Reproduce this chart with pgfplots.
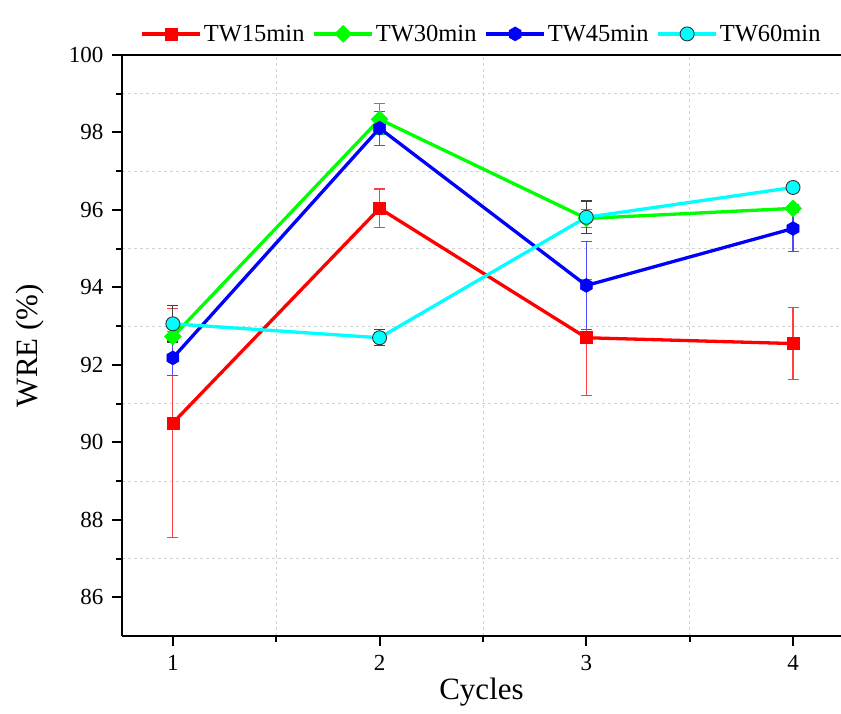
\documentclass[border=0pt]{standalone}
\usepackage{fontspec}
\setmainfont{Liberation Serif}
\usepackage{pgfplots}
\usepackage{pgfplotstable}
\pgfplotsset{compat=1.18}

\definecolor{cRed}{RGB}{255,0,0}
\definecolor{cGreen}{RGB}{0,255,0}
\definecolor{cBlue}{RGB}{0,0,255}
\definecolor{cCyan}{RGB}{0,255,255}

\pgfdeclareplotmark{hexagon*}{%
  \pgfpathmoveto{\pgfqpointpolar{90}{\pgfplotmarksize}}%
  \pgfpathlineto{\pgfqpointpolar{150}{\pgfplotmarksize}}%
  \pgfpathlineto{\pgfqpointpolar{210}{\pgfplotmarksize}}%
  \pgfpathlineto{\pgfqpointpolar{270}{\pgfplotmarksize}}%
  \pgfpathlineto{\pgfqpointpolar{330}{\pgfplotmarksize}}%
  \pgfpathlineto{\pgfqpointpolar{30}{\pgfplotmarksize}}%
  \pgfpathclose
  \pgfusepathqfillstroke}

\pgfplotstableread{
x y e
1 90.50 2.95
2 96.04 0.50
3 92.70 1.50
4 92.55 0.93
}\twfifteen
\pgfplotstableread{
x y e
1 92.73 0.13
2 98.34 0.40
3 95.78 0.23
4 96.04 0.10
}\twthirty
\pgfplotstableread{
x y e
1 92.18 0.46
2 98.11 0.44
3 94.05 1.14
4 95.52 0.60
}\twfortyfive
\pgfplotstableread{
x y e
1 93.06 0.47
2 92.70 0.21
3 95.81 0.42
4 96.58 0.08
}\twsixty

\begin{document}
\begin{tikzpicture}
\begin{axis}[
  scale only axis,
  width=719pt, height=581pt,
  xmin=0.754, xmax=4.232,
  ymin=85, ymax=100,
  axis x line*=box, axis y line*=left,
  axis line style={-, line width=2pt, black},
  xtick={1,2,3,4},
  ytick={86,88,...,100},
  minor x tick num=1,
  minor y tick num=1,
  xtick pos=left, ytick pos=left,
  tick align=outside,
  major tick length=10pt, minor tick length=6pt,
  every tick/.style={black, line width=2pt},
  xminorgrids=true, yminorgrids=true,
  minor grid style={gray!35, line width=0.7pt, dash pattern=on 3pt off 3pt},
  /pgf/number format/assume math mode=true,
  tick label style={font=\fontsize{23}{26}\selectfont},
  yticklabel style={xshift=-5pt},
  xticklabel style={yshift=-6pt},
  xlabel={Cycles}, ylabel={WRE (\%)},
  label style={font=\fontsize{31}{34}\selectfont},
  ylabel style={yshift=18pt},
  legend columns=4,
  legend style={at={(0.5,1)}, anchor=south, yshift=8pt, draw=none, fill=none,
    font=\fontsize{24.5}{28}\selectfont,
    /tikz/every even column/.append style={column sep=6pt}},
  legend image code/.code={\draw[mark repeat=2, mark phase=2] plot coordinates {(0pt,0pt) (29pt,0pt) (58pt,0pt)};},
  error bars/y dir=both, error bars/y explicit,
]
\addplot[cRed, line width=3.3pt, mark=square*, mark size=6pt, mark options={solid, line width=0.5pt, fill=cRed},
  error bars/.cd, error bar style={cRed!75, line width=1.1pt}, error mark options={cRed!75, line width=1.1pt, mark size=5.5pt, rotate=90}]
  table[x=x, y=y, y error=e]{\twfifteen};
\addlegendentry{TW15min}
\addplot[cGreen, line width=3.3pt, mark=square*, mark size=6pt, mark options={solid, rotate=45, line width=0.5pt, fill=cGreen},
  error bars/.cd, error bar style={cGreen!75!black!90, line width=1.1pt}, error mark options={cGreen!75!black!90, line width=1.1pt, mark size=5.5pt, rotate=90}]
  table[x=x, y=y, y error=e]{\twthirty};
\addlegendentry{TW30min}
\addplot[cBlue, line width=3.3pt, mark=hexagon*, mark size=7pt, mark options={solid, line width=0.5pt, fill=cBlue},
  error bars/.cd, error bar style={cBlue!70, line width=1.1pt}, error mark options={cBlue!70, line width=1.1pt, mark size=5.5pt, rotate=90}]
  table[x=x, y=y, y error=e]{\twfortyfive};
\addlegendentry{TW45min}
\addplot[cCyan, line width=3.3pt, mark=*, mark size=7pt, mark options={solid, draw=black!80, line width=0.9pt, fill=cCyan},
  error bars/.cd, error bar style={black!75, line width=1.1pt}, error mark options={black!75, line width=1.1pt, mark size=5.5pt, rotate=90}]
  table[x=x, y=y, y error=e]{\twsixty};
\addlegendentry{TW60min}
\end{axis}
\pgfresetboundingbox
\path (current axis.south west) ++(-122pt,-78pt) rectangle ++(841pt,714pt);
\end{tikzpicture}
\end{document}
